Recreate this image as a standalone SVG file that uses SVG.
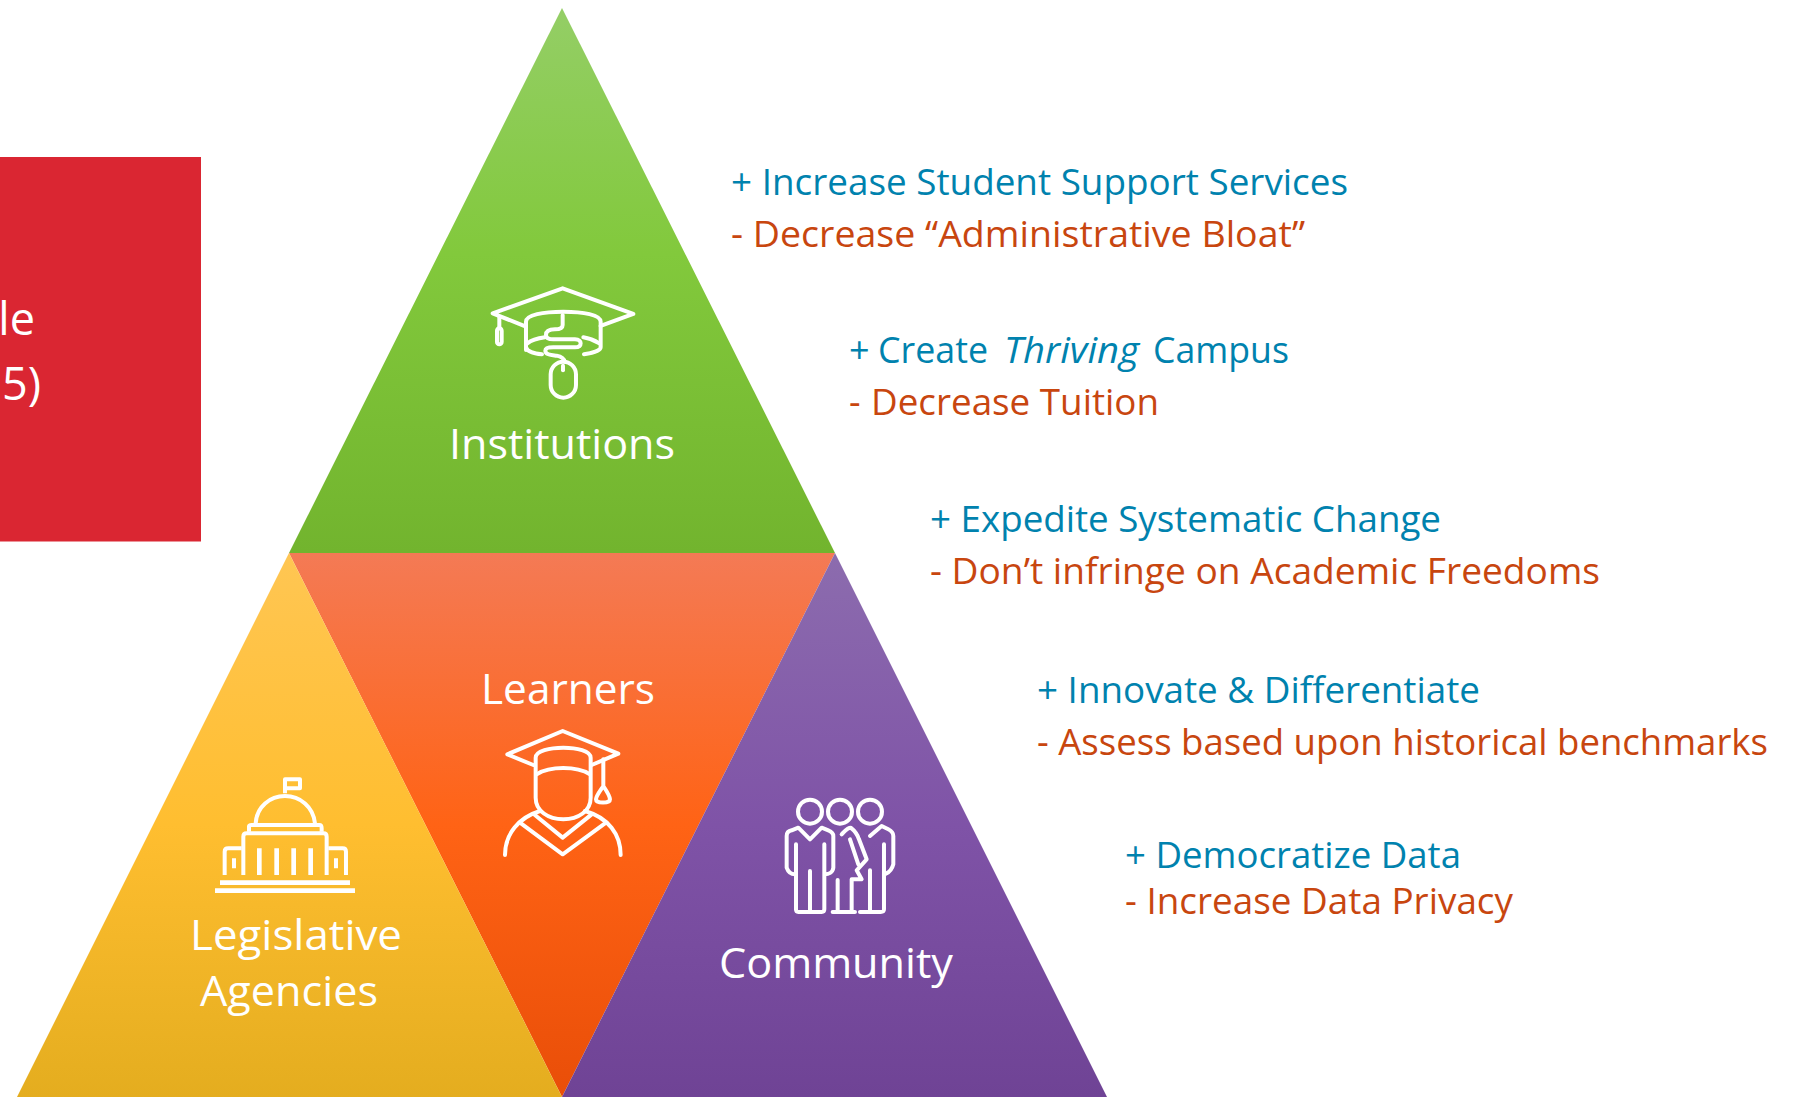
<svg xmlns="http://www.w3.org/2000/svg" width="1794" height="1097" viewBox="0 0 1794 1097">
<style>
text{font-family:"Open Sans","Noto Sans","Liberation Sans",sans-serif}
.w{fill:#fff;font-size:42px}
.b{fill:#fff;font-size:45px}
.p{fill:#0082AE;font-size:36px}
.m{fill:#C8460F;font-size:36px}
.i{fill:none;stroke:#fff;stroke-width:12;stroke-linecap:round;stroke-linejoin:round}
</style>
<defs>
<linearGradient id="gG" x1="0" y1="0" x2="0" y2="1"><stop offset="0" stop-color="#94CE66"/><stop offset=".45" stop-color="#82C93C"/><stop offset="1" stop-color="#72B42E"/></linearGradient>
<linearGradient id="gO" x1="0" y1="0" x2="0" y2="1"><stop offset="0" stop-color="#F47A55"/><stop offset=".5" stop-color="#FF6315"/><stop offset="1" stop-color="#E94E08"/></linearGradient>
<linearGradient id="gY" x1="0" y1="0" x2="0" y2="1"><stop offset="0" stop-color="#FFC653"/><stop offset=".5" stop-color="#FFBE30"/><stop offset="1" stop-color="#E4AD1F"/></linearGradient>
<linearGradient id="gP" x1="0" y1="0" x2="0" y2="1"><stop offset="0" stop-color="#8C6CAE"/><stop offset=".5" stop-color="#7F53A7"/><stop offset="1" stop-color="#6F4395"/></linearGradient>
</defs>
<rect width="1794" height="1097" fill="#fff"/>
<g id="red-box">
<rect x="0" y="157" width="201" height="384.500" fill="#DA2632"/>
<text class="b" x="35" y="335" text-anchor="end">le</text>
<text class="b" x="41" y="400" text-anchor="end">5)</text>
</g>
<g id="institutions">
<polygon points="562,8 835,553 289,553" fill="url(#gG)"/>
<g transform="translate(440 260) scale(.3333)" class="i">
<path d="M258,200 L158,160 L368,85 L580,162 L482,198"/>
<path d="M258,270 V185 C258,165 310,155 370,155 C430,155 482,165 482,185 V262 C482,272 455,280 432,283"/>
<path d="M258,262 C262,275 285,281 306,283"/>
<path d="M262,250 C275,240 295,235 315,232"/>
<path d="M430,232 C450,235 470,245 478,250"/>
<path d="M368,165 V195 C368,205 360,208 345,208 C325,208 318,215 318,225 C318,237 330,238 340,238 H405 C418,238 422,245 422,250 C422,258 415,262 405,262 H340 C325,262 316,265 316,272 C316,285 335,285 350,287 C365,290 372,295 374,305"/>
<rect x="332" y="305" width="76" height="108" rx="38"/>
<path d="M369,317 v14"/>
<path d="M178,170 V205"/>
<rect x="171" y="205" width="14" height="48" rx="7"/>
</g>
<text class="w" x="449" y="459" textLength="226" lengthAdjust="spacingAndGlyphs">Institutions</text>
</g>
<g id="learners">
<polygon points="289,553 835,553 562,1097" fill="url(#gO)"/>
<text class="w" x="481" y="704" textLength="174" lengthAdjust="spacingAndGlyphs">Learners</text>
<g transform="translate(470 651) scale(.3333)" class="i">
<path d="M190,342 L112,310 L278,240 L445,308 L365,342"/>
<path d="M197,345 V320 C197,300 240,290 280,290 C320,290 362,300 362,320 V440 C362,480 325,505 280,505 C235,505 197,480 197,440 Z"/>
<path d="M200,370 C240,345 320,345 360,370"/>
<path d="M400,325 V405 M400,405 C390,420 378,435 378,445 C378,458 420,458 420,445 C420,435 410,420 400,405 Z"/>
<path d="M105,612 C105,550 145,500 210,480 M452,612 C452,550 415,500 345,480"/>
<path d="M150,515 L278,610 L408,515 M192,490 L278,560 L365,490"/>
</g>
</g>
<g id="legislative-agencies">
<polygon points="289,553 562,1097 17,1097" fill="url(#gY)"/>
<g transform="translate(190 760) scale(.3333)" class="i" style="stroke-linecap:butt">
<path d="M197,190 C200,140 240,108 285,108 C330,108 370,140 375,190"/>
<path d="M285,100 V58 H330 V85 H285"/>
<path d="M177,215 V200 C177,195 180,195 185,195 H388 C393,195 395,198 395,205 V215"/>
<path d="M160,345 V230 C160,222 165,220 170,220 H400 C408,220 410,225 410,230 V345"/>
<path d="M208,265 V345 M260,265 V345 M311,265 V345 M362,265 V345" stroke-width="14"/>
<path d="M104,345 V275 C104,268 108,265 115,265 H155 M468,345 V275 C468,268 464,265 458,265 H415"/>
<path d="M132,295 V325 M438,295 V325"/>
<path d="M90,368 H480 M75,392 H495" stroke-width="14"/>
</g>
<text class="w" x="190" y="950" textLength="212" lengthAdjust="spacingAndGlyphs">Legislative</text>
<text class="w" x="200" y="1006" textLength="178" lengthAdjust="spacingAndGlyphs">Agencies</text>
</g>
<g id="community">
<polygon points="835,553 1107,1097 562,1097" fill="url(#gP)"/>
<g transform="translate(760 781) scale(.3333)" class="i">
<circle cx="150" cy="92" r="36"/><circle cx="240" cy="92" r="36"/><circle cx="330" cy="92" r="36"/>
<path d="M105,280 C95,280 85,275 80,260 V165 C80,155 85,150 95,148 L115,140 L150,175 L185,140 L205,148 C215,152 220,158 220,165 V260 C218,275 205,280 195,280"/>
<path d="M108,190 V385 C108,392 110,393 115,393 H185 C190,393 193,390 193,385 V190 M150,270 V390"/>
<path d="M245,160 C255,150 262,140 272,140 C285,150 292,160 297,175 L320,235 L290,268 L305,295 H275 V390"/>
<path d="M270,175 L295,250 M233,297 V392 M218,393 H285"/>
<path d="M330,165 L365,135 L385,145 C395,150 400,155 400,165 V250 C395,270 385,275 378,278"/>
<path d="M372,190 V385 C372,392 368,393 362,393 H300 M330,268 V390"/>
</g>
<text class="w" x="719" y="978" textLength="234" lengthAdjust="spacingAndGlyphs">Community</text>
</g>
<g id="text-institutions">
<text class="p" x="731" y="195" textLength="617" lengthAdjust="spacingAndGlyphs">+ Increase  Student Support Services</text>
<text class="m" x="731" y="247" textLength="574" lengthAdjust="spacingAndGlyphs">- Decrease  “Administrative  Bloat”</text>
</g>
<g id="text-campus">
<text class="p" x="849" y="363">+</text>
<text class="p" x="878" y="363" textLength="110" lengthAdjust="spacingAndGlyphs">Create</text>
<text class="p" x="1004" y="363" font-style="italic" textLength="135" lengthAdjust="spacingAndGlyphs">Thriving</text>
<text class="p" x="1153" y="363" textLength="136" lengthAdjust="spacingAndGlyphs">Campus</text>
<text class="m" x="849" y="415">-</text>
<text class="m" x="871" y="415" textLength="288" lengthAdjust="spacingAndGlyphs">Decrease  Tuition</text>
</g>
<g id="text-systematic">
<text class="p" x="930" y="532" textLength="511" lengthAdjust="spacingAndGlyphs">+ Expedite Systematic Change</text>
<text class="m" x="930" y="584" textLength="670" lengthAdjust="spacingAndGlyphs">- Don’t infringe  on Academic Freedoms</text>
</g>
<g id="text-innovate">
<text class="p" x="1037" y="703" textLength="443" lengthAdjust="spacingAndGlyphs">+ Innovate  &amp; Differentiate</text>
<text class="m" x="1037" y="755" textLength="731" lengthAdjust="spacingAndGlyphs">- Assess  based  upon historical benchmarks</text>
</g>
<g id="text-data">
<text class="p" x="1125" y="868" textLength="336" lengthAdjust="spacingAndGlyphs">+ Democratize  Data</text>
<text class="m" x="1125" y="914" textLength="388" lengthAdjust="spacingAndGlyphs">- Increase  Data Privacy</text>
</g>
</svg>
